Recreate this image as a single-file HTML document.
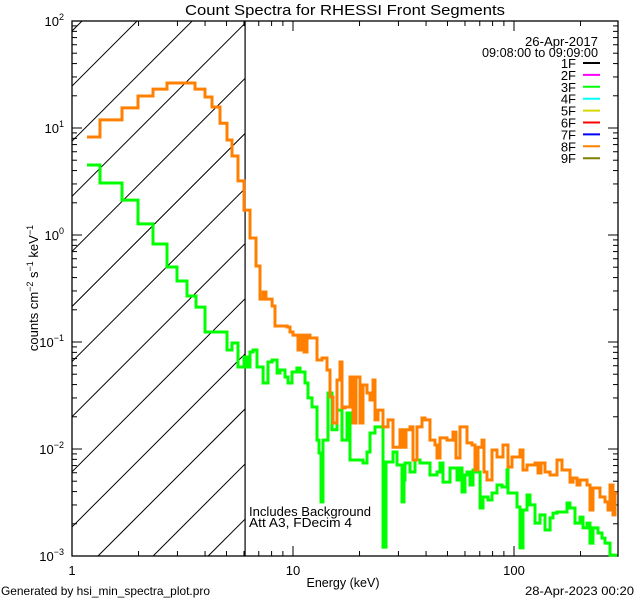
<!DOCTYPE html>
<html><head><meta charset="utf-8"><style>
html,body{margin:0;padding:0;background:#fff;}
svg{display:block;font-family:"Liberation Sans",sans-serif;}
</style></head><body>
<svg id="chart" width="640" height="600" viewBox="0 0 640 600" xmlns="http://www.w3.org/2000/svg">
<rect width="640" height="600" fill="#fff"/>
<text x="345" y="15" font-size="15" text-anchor="middle" textLength="320" lengthAdjust="spacingAndGlyphs">Count Spectra for RHESSI Front Segments</text>
<g id="hatch"></g>
<g id="axes"></g>
<g id="series"></g>
<g id="legend"></g>
<text x="598" y="46" font-size="13" text-anchor="end" textLength="73" lengthAdjust="spacingAndGlyphs">26-Apr-2017</text>
<text x="598" y="57" font-size="13" text-anchor="end" textLength="116" lengthAdjust="spacingAndGlyphs">09:08:00 to 09:09:00</text>
<text x="249" y="516" font-size="13" textLength="122" lengthAdjust="spacingAndGlyphs">Includes Background</text>
<text x="249" y="527" font-size="13" textLength="103" lengthAdjust="spacingAndGlyphs">Att A3, FDecim 4</text>
<text x="343" y="587" font-size="13" text-anchor="middle" textLength="73" lengthAdjust="spacingAndGlyphs">Energy (keV)</text>
<text transform="translate(38,288) rotate(-90)" font-size="13" text-anchor="middle">counts cm<tspan font-size="9" dy="-5">−2</tspan><tspan dy="5"> s</tspan><tspan font-size="9" dy="-5">−1</tspan><tspan dy="5"> keV</tspan><tspan font-size="9" dy="-5">−1</tspan></text>
<text x="1" y="595" font-size="12" textLength="209" lengthAdjust="spacingAndGlyphs">Generated by hsi_min_spectra_plot.pro</text>
<text x="634" y="595" font-size="12" text-anchor="end" textLength="109" lengthAdjust="spacingAndGlyphs">28-Apr-2023 00:20</text>
</svg>
<script>
const orangeEdges=[1.169,1.339,1.684,1.989,2.325,2.691,3.603,3.998,4.300,4.674,5.028,5.297,5.638,6.001,6.390,6.80,7.09,7.32,7.55,8.04,8.29,8.92,9.40,9.69,10.0,10.53,10.87,11.22,11.57,11.94,12.84,13.53,14.25,14.71,15.17,15.82,16.32,16.67,17.19,18.11,18.69,19.28,20.10,20.74,21.62,22.31,23.01,23.50,24.25,25.54,26.91,28.35,30.50,31.46,32.45,33.83,34.91,36.40,38.35,39.56,41.69,43.91,44.84,46.27,49.77,52.97,54.65,56.99,61.29,64.57,66.61,68.72,71.68,73.19,75.50,79.53,83.78,89.18,93.96,97.96,106.4,109.8,114.5,124.5,128.4,132.5,138.1,145.6,156.6,164.9,173.7,179.2,184.9,192.8,199.0,214.0,220.8,227.8,245.0,258.2,266.4,271.9,280.5,286.4,292.5];
const orangeValues=[8.24,11.9,15.4,19.9,23.1,26.35,23.1,19.5,15.7,11.1,7.73,5.48,3.20,1.71,0.938,0.513,0.252,0.293,0.252,0.217,0.141,0.141,0.138,0.124,0.116,0.0842,0.116,0.0806,0.116,0.109,0.0679,0.0709,0.0547,0.0306,0.0175,0.0441,0.0650,0.0242,0.0247,0.0471,0.0175,0.0471,0.0175,0.0396,0.0334,0.0287,0.0441,0.0187,0.0231,0.0161,0.0187,0.0104,0.0151,0.0104,0.0151,0.0161,0.00789,0.0161,0.0195,0.0187,0.0121,0.0109,0.00824,0.0127,0.0121,0.0144,0.00824,0.0161,0.0114,0.0109,0.00637,0.0104,0.0121,0.00610,0.00513,0.00979,0.00842,0.0109,0.00679,0.00842,0.00979,0.00637,0.00709,0.00740,0.00597,0.00740,0.00610,0.00571,0.00789,0.00637,0.00637,0.00491,0.00536,0.00461,0.00513,0.00461,0.00269,0.00432,0.00356,0.00320,0.00269,0.00461,0.00242,0.00388];
const greenEdges=[1.169,1.339,1.684,1.989,2.325,2.691,2.987,3.314,3.64,3.998,5.028,5.297,5.638,6.001,6.19,6.39,6.59,6.87,7.32,7.71,8.04,8.47,8.73,9.20,9.49,9.90,10.42,10.76,11.33,11.69,12.19,12.84,13.11,13.39,13.67,13.96,14.40,15.02,15.82,16.67,17.55,18.11,18.69,20.74,21.62,22.31,23.50,25.54,26.36,28.35,29.55,31.14,31.79,32.12,33.83,35.65,37.56,39.56,41.69,44.84,46.27,47.73,51.33,55.23,56.99,58.19,60.03,61.29,63.24,65.25,66.61,70.21,72.43,76.29,79.53,83.78,88.26,92.97,93.96,103.2,106.4,109.8,114.5,118.2,124.5,131.1,138.1,145.6,150.2,156.6,173.7,179.2,188.8,199.0,205.3,214.0,220.8,227.8,239.9,250.2,258.2,271.9,292.5];
const greenValues=[4.51,3.06,2.12,1.27,0.824,0.502,0.372,0.269,0.212,0.124,0.0842,0.0979,0.0584,0.0724,0.0584,0.0806,0.0842,0.0584,0.0414,0.0650,0.0679,0.0513,0.0547,0.0471,0.0414,0.0524,0.0571,0.0524,0.0414,0.0300,0.0247,0.0121,0.00918,0.00320,0.0121,0.0121,0.0334,0.0151,0.0231,0.0121,0.0217,0.00789,0.00789,0.00740,0.00938,0.0141,0.0161,0.00121,0.00756,0.00938,0.00709,0.00320,0.00513,0.00740,0.00610,0.00789,0.00740,0.00740,0.00571,0.00610,0.00740,0.00491,0.00665,0.00513,0.00665,0.00396,0.00571,0.00610,0.00461,0.00637,0.00610,0.00281,0.00356,0.00334,0.00388,0.00461,0.00441,0.00637,0.00388,0.00287,0.00119,0.00269,0.00372,0.00300,0.00203,0.00242,0.00175,0.00227,0.00252,0.00258,0.00313,0.00281,0.00203,0.00231,0.00183,0.00203,0.00132,0.00183,0.00164,0.00147,0.00132,0.00102];
const yTickExps=[-3,-2,-1,0,1,2];
const xTickLabels=["1","10","100"];
const legendLabels=["1F","2F","3F","4F","5F","6F","7F","8F","9F"];
const legendColors=["#000000","#ff00ff","#00ff00","#00ffff","#d8d800","#ff0000","#0000ff","#ff8000","#808000"];
const bgCutoff=6.07;

const NS="http://www.w3.org/2000/svg";
const L=72,R=618,T=21,B=556;
const xMinLog=0,xMaxLog=Math.log10(292.5)*0+((R-L)/221);
function xs(e){return L+(Math.log10(e)-xMinLog)/xMaxLog*(R-L);}
function ys(v){return B-(Math.log10(v)+3)/5*(B-T);}
function mk(tag,attrs,parent){const el=document.createElementNS(NS,tag);for(const k in attrs)el.setAttribute(k,attrs[k]);parent.appendChild(el);return el;}

// hatch region
const hatch=document.getElementById('hatch');
const cx=xs(bgCutoff);
const defs=mk('defs',{},document.getElementById('chart'));
const cp=mk('clipPath',{id:'hclip'},defs);
mk('rect',{x:L,y:T,width:cx-L,height:B-T},cp);
const hg=mk('g',{'clip-path':'url(#hclip)'},hatch);
for(let c=103-55.1*4;c<B+cx+60;c+=55.1){
  const ln=mk('line',{x1:c-B,y1:B,x2:c-T,y2:T,stroke:'#000','stroke-width':1},hg);
  
  
}
const cut=mk('line',{x1:cx,y1:T,x2:cx,y2:B,stroke:'#000','stroke-width':1.2},hatch);



// axes
const ax=document.getElementById('axes');
const frame=mk('rect',{x:L,y:T,width:R-L,height:B-T,fill:'none',stroke:'#000','stroke-width':1.3},ax);


for(let d=0;d<3;d++){
  for(let m=1;m<10;m++){
    const e=Math.pow(10,d)*m; const x=xs(e); if(x>R)break;
    const len=m===1?10:5;
    const t1=mk('line',{x1:x,y1:B,x2:x,y2:B-len,stroke:'#000'},ax);
    
    
    const t2=mk('line',{x1:x,y1:T,x2:x,y2:T+len,stroke:'#000'},ax);
    
    
  }
  const lb=mk('text',{x:xs(Math.pow(10,d)),y:575,'font-size':13,'text-anchor':'middle'},ax);
  lb.textContent=xTickLabels[d];
  
  
}
yTickExps.forEach(p=>{
  const y=ys(Math.pow(10,p));
  const lb=mk('text',{x:64,y:y+5,'font-size':13,'text-anchor':'end'},ax);
  lb.innerHTML='10<tspan font-size="9" dy="-6">'+(p<0?'−'+(-p):p)+'</tspan>';
  
  
  if(p===2)return;
  for(let m=1;m<10;m++){
    const yy=ys(Math.pow(10,p)*m); const len=m===1?10:5;
    const t1=mk('line',{x1:L,y1:yy,x2:L+len,y2:yy,stroke:'#000'},ax);
    
    
    const t2=mk('line',{x1:R,y1:yy,x2:R-len,y2:yy,stroke:'#000'},ax);
    
    
  }
});

// series
const sg=document.getElementById('series');
function stepPath(edges,vals){
  let d='';
  for(let i=0;i<vals.length;i++){
    const x0=xs(edges[i]),x1=xs(edges[i+1]),y=ys(vals[i]);
    d+=(i===0?'M':'L')+x0.toFixed(1)+' '+y.toFixed(1)+'L'+x1.toFixed(1)+' '+y.toFixed(1);
  }
  return d;
}
const gp=mk('path',{d:stepPath(greenEdges,greenValues),fill:'none',stroke:'#00ff00','stroke-width':3},sg);


const op=mk('path',{d:stepPath(orangeEdges,orangeValues),fill:'none',stroke:'#ff8000','stroke-width':3},sg);



// legend
const lg=document.getElementById('legend');
legendLabels.forEach((lab,i)=>{
  const y=63+i*11.9;
  const t=mk('text',{x:576,y:y+5,'font-size':13,'text-anchor':'end'},lg);
  t.textContent=lab;
  
  
  const l=mk('line',{x1:583,y1:y,x2:600,y2:y,stroke:legendColors[i],'stroke-width':2},lg);
  
  
});
</script>
</body></html>
